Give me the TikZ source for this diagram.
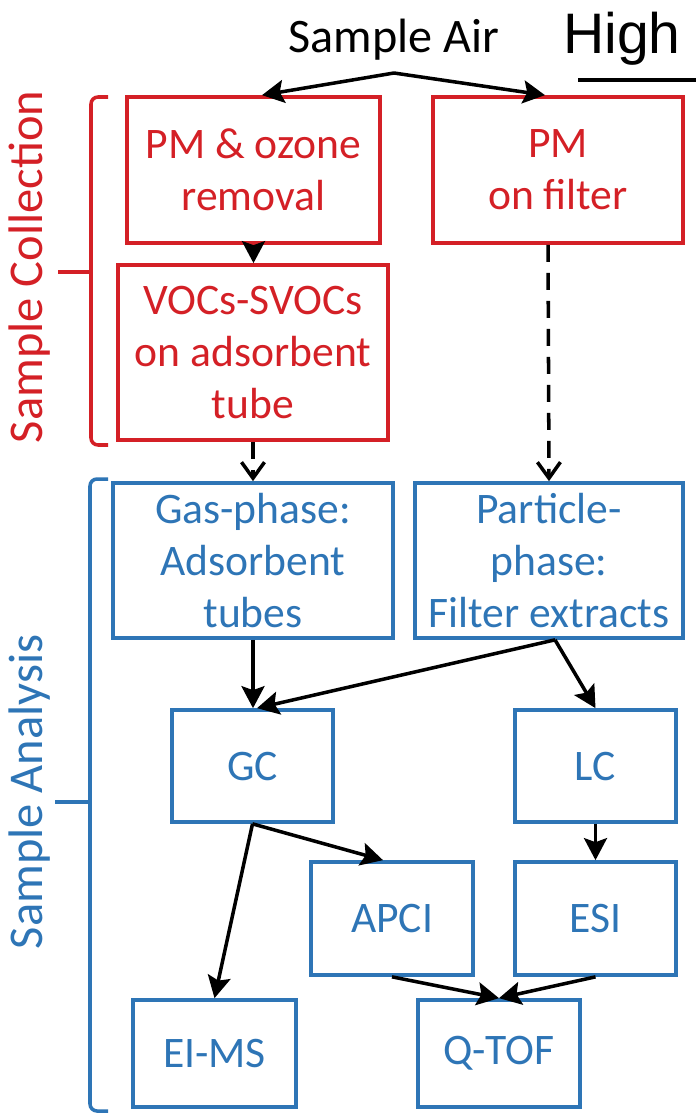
\documentclass[tikz,border=0pt]{standalone}
\usepackage{fontspec}
\setmainfont{Carlito}
\newfontfamily\highfont{Liberation Sans}
\usepackage{xcolor}
\usetikzlibrary{arrows.meta, positioning, calc}

\definecolor{colred}{RGB}{212,32,38}
\definecolor{colblue}{RGB}{46,117,182}

\tikzset{
    boxtext/.style={font=\fontsize{24.8}{29.6}\selectfont, align=center},
    redbox/.style={draw=colred, text=colred, line width=2.1pt, boxtext},
    bluebox/.style={draw=colblue, text=colblue, line width=2.1pt, boxtext},
    flow/.style={-{Stealth[length=0.44cm, width=0.46cm, inset=0.08cm]}, line width=2pt},
    dflow/.style={-{Straight Barb[length=0.32cm, width=0.46cm]}, line width=2pt, dash pattern=on 0.34cm off 0.22cm},
    sidelabel/.style={font=\fontsize{27.6}{31}\selectfont, rotate=90}
}

\begin{document}
\begin{tikzpicture}
        \useasboundingbox (0,0) rectangle (13.92,-22.34);

        % Top
        \node[font=\fontsize{27.4}{31}\selectfont] (air) at (7.88,-0.8) {Sample Air};
        \node[font=\highfont\fontsize{32.5}{36}\selectfont] (high) at (12.44,-0.78) {High};
        \draw[line width=2.8pt] (11.56,-1.6) -- (13.92,-1.6);
        \coordinate (split) at (7.88,-1.46);

        % Sample collection
        \node[redbox, minimum width=5.06cm, minimum height=2.92cm] (ozone) at (5.07,-3.40) {PM \& ozone\\removal};
        \node[redbox, minimum width=5.0cm, minimum height=2.92cm] (filter) at (11.16,-3.40) {PM\\on filter};
        \node[redbox, minimum width=5.4cm, minimum height=3.5cm] (tube) at (5.06,-7.05) {VOCs-SVOCs\\on adsorbent\\tube};

        % Sample analysis
        \node[bluebox, minimum width=5.6cm, minimum height=3.1cm] (gas) at (5.06,-11.21) {Gas-phase:\\Adsorbent\\tubes};
        \node[bluebox, minimum width=5.36cm, minimum height=3.1cm] (particle) at (10.98,-11.21) {Particle-\\phase:\\Filter extracts};
        \node[bluebox, minimum width=3.22cm, minimum height=2.24cm] (gc) at (5.05,-15.32) {GC};
        \node[bluebox, minimum width=3.22cm, minimum height=2.24cm] (lc) at (11.91,-15.32) {LC};
        \node[bluebox, minimum width=3.24cm, minimum height=2.26cm] (apci) at (7.84,-18.37) {APCI};
        \node[bluebox, minimum width=3.22cm, minimum height=2.26cm] (esi) at (11.91,-18.37) {ESI};
        \node[bluebox, minimum width=3.26cm, minimum height=2.14cm] (eims) at (4.29,-21.07) {EI-MS};
        \node[bluebox, minimum width=3.24cm, minimum height=2.14cm] (qtof) at (9.98,-21.07) {Q-TOF};

        % Arrows
        \draw[flow] (split) -- ([xshift=0.17cm]ozone.north);
        \draw[flow] (split) -- ([xshift=-0.26cm]filter.north);
        \draw[flow] (ozone.south) -- (ozone.south |- tube.north);
        \draw[dflow] (tube.south) -- (tube.south |- gas.north);
        \draw[dflow] ([xshift=-0.2cm]filter.south) -- (particle.north);
        \draw[flow] (gas.south) -- (gas.south |- gc.north);
        \draw[flow] ([xshift=0.12cm]particle.south) -- ([xshift=0.09cm]gc.north);
        \draw[flow] ([xshift=0.12cm]particle.south) -- (lc.north);
        \draw[flow] (gc.south) -- ([xshift=-0.18cm]apci.north);
        \draw[flow] (gc.south) -- (eims.north);
        \draw[flow] (lc.south) -- (esi.north);
        \draw[flow] (apci.south) -- (qtof.north);
        \draw[flow] (esi.south) -- (qtof.north);

        % Braces
        \draw[colred, line width=2pt, rounded corners=4pt] (2.16,-1.94) -- (1.82,-1.94) -- (1.82,-8.9) -- (2.16,-8.9);
        \draw[colred, line width=2pt] (1.82,-5.44) -- (1.16,-5.44);
        \node[sidelabel, text=colred] (collect) at (0.6,-5.34) {Sample Collection};

        \draw[colblue, line width=2pt, rounded corners=4pt] (2.16,-9.58) -- (1.8,-9.58) -- (1.8,-22.22) -- (2.16,-22.22);
        \draw[colblue, line width=2pt] (1.8,-16.04) -- (1.1,-16.04);
        \node[sidelabel, text=colblue] (analysis) at (0.6,-15.84) {Sample Analysis};
\end{tikzpicture}
\end{document}
